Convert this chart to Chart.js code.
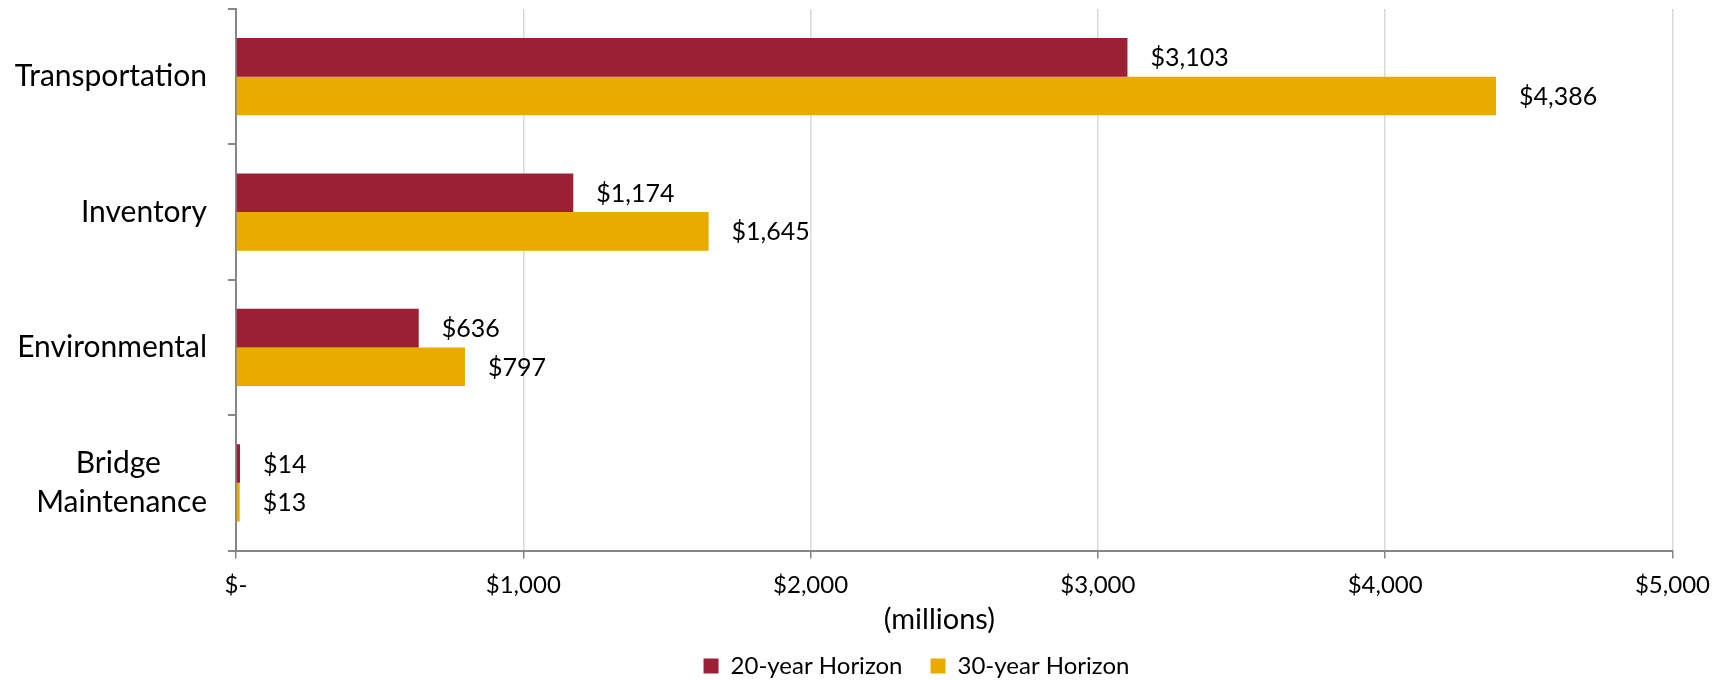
<!DOCTYPE html>
<html>
<head>
<meta charset="utf-8">
<script src="https://cdn.jsdelivr.net/npm/chart.js@4"></script>
<style>
  html, body { margin: 0; padding: 0; background: #fff; }
  #wrap { width: 1725px; height: 680px; }
</style>
</head>
<body>
<div id="wrap"><canvas id="chart"></canvas></div>
<script>
(() => {
  'use strict'
  const categories = ['Transportation', 'Inventory', 'Environmental', 'Bridge Maintenance'];
  const horizon20 = [3103, 1174, 636, 14];
  const horizon30 = [4386, 1645, 797, 13];
  const seriesNames = ['20-year Horizon', '30-year Horizon'];
  const xTicks = [0, 1000, 2000, 3000, 4000, 5000];

  const FONT = 'Lato';
  const CAT_SIZE = 30;
  const money = v => v === 0 ? '$-' : '$' + v.toLocaleString('en-US');

  // centre the lines of a two-line label inside its block (like Excel does)
  const measure = document.createElement('canvas').getContext('2d');
  measure.font = CAT_SIZE + 'px ' + FONT;
  const splitLabel = (label) => {
    if (label.indexOf(' ') < 0 || label.length < 15) return label;
    const lines = label.split(' ');
    const w = lines.map(l => measure.measureText(l).width);
    const max = Math.max(...w);
    const sp = measure.measureText(' ').width;
    return lines.map((l, i) => l + ' '.repeat(Math.round((max - w[i]) / 2 / sp)));
  };

  // value labels at the end of each bar
  const valueLabels = {
    id: 'valueLabels',
    afterDatasetsDraw(chart) {
      const ctx = chart.ctx;
      ctx.save();
      ctx.font = '25px ' + FONT;
      ctx.fillStyle = '#000';
      ctx.textAlign = 'left';
      ctx.textBaseline = 'middle';
      chart.data.datasets.forEach((ds, i) => {
        chart.getDatasetMeta(i).data.forEach((bar, j) => {
          ctx.fillText(money(ds.data[j]), bar.x + 23, bar.y + 1);
        });
      });
      ctx.restore();
    }
  };

  // the legend sits a bit right of the middle in the original, move it
  const legendShift = {
    id: 'legendShift',
    afterLayout(chart) {
      chart.legend.left += 56;
      chart.legend.right += 56;
      chart.legend.top -= 8;
    }
  };

  new Chart(document.getElementById('chart'), {
    type: 'bar',
    data: {
      labels: categories,
      datasets: [{
        label: seriesNames[0],
        data: horizon20,
        backgroundColor: '#9b2034',
        borderWidth: 0
      }, {
        label: seriesNames[1],
        data: horizon30,
        backgroundColor: '#e9ab00',
        borderWidth: 0
      }]
    },
    options: {
      indexAxis: 'y',
      responsive: true,
      maintainAspectRatio: false,
      animation: false,
      categoryPercentage: 0.57,
      barPercentage: 1,
      layout: { padding: { top: 9, right: 16, left: 12, bottom: 0 } },
      scales: {
        x: {
          min: 0,
          max: 5000,
          afterBuildTicks: axis => { axis.ticks = xTicks.map(v => ({ value: v })); },
          ticks: {
            callback: v => money(v),
            font: { family: FONT, size: 24, lineHeight: 1 },
            color: '#000',
            padding: 15
          },
          grid: { color: '#d9d9d9', lineWidth: 1.5, tickColor: '#868686', tickLength: 8 },
          border: { color: '#868686', width: 2 },
          title: {
            display: true,
            text: '(millions)    ',
            font: { family: FONT, size: 29, lineHeight: 1 },
            color: '#000',
            padding: { top: -7.5, bottom: 0 }
          }
        },
        y: {
          afterFit: scale => { scale.paddingTop = 0; scale.paddingBottom = 0; scale.width = 224; },
          ticks: {
            callback: function (v) { return splitLabel(this.getLabelForValue(v)); },
            font: { family: FONT, size: CAT_SIZE, lineHeight: 1.28 },
            color: '#000',
            padding: 21
          },
          grid: { drawOnChartArea: false, tickColor: '#868686', tickLength: 8, lineWidth: 2 },
          border: { color: '#868686', width: 2 }
        }
      },
      plugins: {
        legend: {
          position: 'bottom',
          maxHeight: 46,
          labels: {
            font: { family: FONT, size: 24, lineHeight: 1 },
            color: '#000',
            boxWidth: 15,
            boxHeight: 15,
            padding: 28
          }
        },
        tooltip: { enabled: false }
      }
    },
    plugins: [valueLabels, legendShift]
  });
})();
</script>
</body>
</html>
